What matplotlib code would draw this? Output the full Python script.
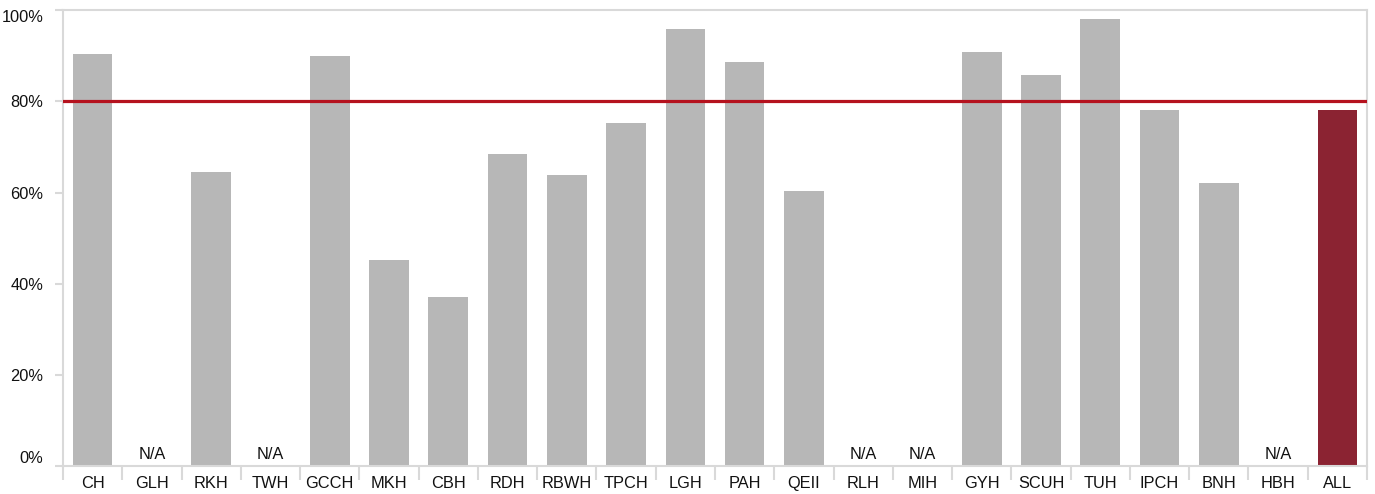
import numpy as np
import matplotlib.pyplot as plt
from matplotlib import rcParams
from matplotlib.ticker import FixedLocator

rcParams['font.family'] = ['Liberation Sans', 'DejaVu Sans']

# data (nan = N/A)
hospitals = ['CH', 'GLH', 'RKH', 'TWH', 'GCCH', 'MKH', 'CBH', 'RDH', 'RBWH', 'TPCH', 'LGH',
             'PAH', 'QEII', 'RLH', 'MIH', 'GYH', 'SCUH', 'TUH', 'IPCH', 'BNH', 'HBH', 'ALL']
values = [90.4, np.nan, 64.5, np.nan, 89.9, 45.2, 37.1, 68.5, 63.9, 75.2, 95.8,
          88.6, 60.3, np.nan, np.nan, 90.8, 85.8, 98.0, 78.1, 62.1, np.nan, 78.1]
target = 80
y_ticks = [0, 20, 40, 60, 80, 100]

grey = '#b7b7b7'
dark_red = '#8b2332'
line_red = '#b5121e'
frame = '#d9d9d9'
fs = 11.8

fig = plt.figure(figsize=(13.75, 4.94), dpi=100)
ax = fig.add_axes([0.0458, 0.0557, 0.9484, 0.9241])

x = np.arange(len(hospitals))
vals = np.array(values, dtype=float)
colors = [dark_red if h == 'ALL' else grey for h in hospitals]
ax.bar(x, np.nan_to_num(vals), width=0.67, color=colors, zorder=2)

# N/A labels
for xi, v in zip(x, vals):
    if np.isnan(v):
        ax.text(xi, 1.0, 'N/A', ha='center', va='bottom', fontsize=fs, color='#111111')

ax.axhline(target, color=line_red, linewidth=2.3, zorder=3)

ax.set_xlim(-0.5, len(hospitals) - 0.5)
ax.set_ylim(0, 100)

ax.set_yticks(y_ticks)
ax.set_yticklabels([f'{t}%' for t in y_ticks], fontsize=fs, color='#111111')
ylabels = ax.get_yticklabels()
ylabels[0].set_va('bottom')
ylabels[-1].set_va('top')
ax.tick_params(axis='y', length=6, width=1.5, color=frame, pad=8)

# category labels centered, tick marks at category boundaries
ax.set_xticks(x)
ax.set_xticklabels(hospitals, fontsize=fs, color='#111111')
ax.tick_params(axis='x', which='major', length=0, pad=7)
ax.xaxis.set_minor_locator(FixedLocator(np.arange(-0.5, len(hospitals), 1.0)))
ax.tick_params(axis='x', which='minor', length=10, width=1.5, color=frame)

for s in ax.spines.values():
    s.set_color(frame)
    s.set_linewidth(1.5)

fig.savefig('out.png', dpi=100)
